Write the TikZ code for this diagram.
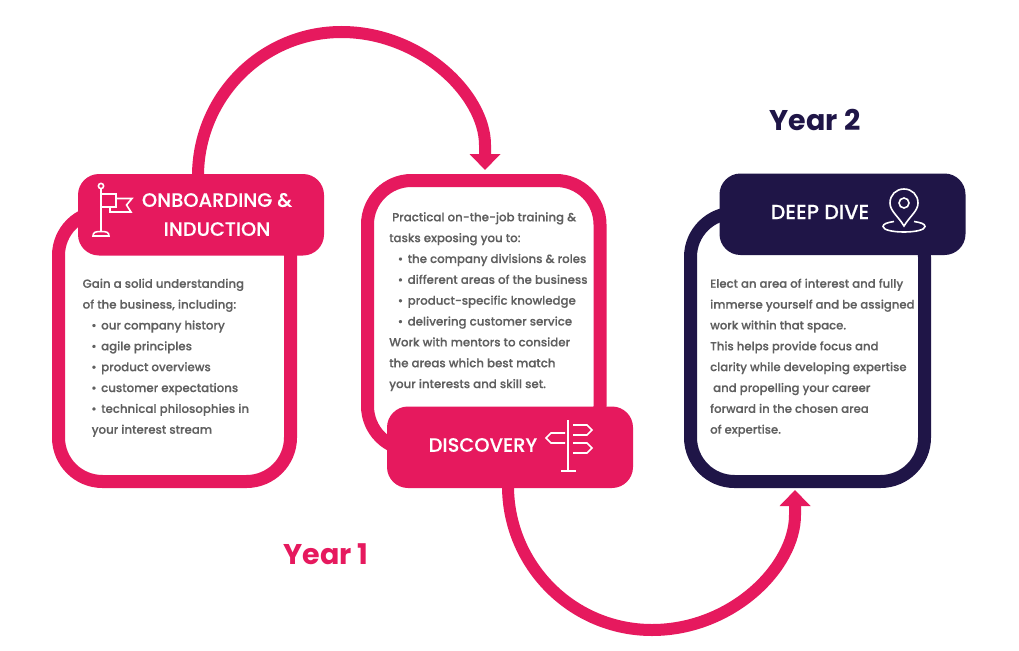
\documentclass[tikz,border=0pt]{standalone}
\usepackage{fontspec}
\setmainfont{Poppins}[UprightFont=* Medium,BoldFont=* Bold,UprightFeatures={FakeBold=0.25}]
\usetikzlibrary{arrows.meta,calc}
\definecolor{pinkc}{HTML}{E6195E}
\definecolor{navyc}{HTML}{1F1547}
\definecolor{bodyc}{HTML}{606060}
\newcommand{\bl}[1]{\makebox[18.5pt][r]{\textbullet\hspace{4.5pt}}#1}
\tikzset{
  x=1pt,y=-1pt,
  cardbox/.style={line width=13pt,rounded corners=44pt,fill=white,inner sep=0,outer sep=0,anchor=north west},
  hdr/.style={fill=#1,rounded corners=21pt,inner sep=0,outer sep=0,minimum width=246pt,minimum height=81.5pt,anchor=north west},
  hdrtext/.style={text=white,font=\fontsize{19.4}{29}\selectfont,inner sep=0,align=center},
  bodytext/.style={text=bodyc,font=\fontsize{11.8}{20.85}\selectfont,inner sep=0,align=left,anchor=north west},
  yeartext/.style={font=\fontsize{28.5}{30}\selectfont\bfseries,inner sep=0},
  flow/.style={draw=pinkc,line width=12pt,-{Triangle[length=16pt,width=30pt]}},
  icon/.style={draw=white,line width=1.6pt,line join=miter}
}
\begin{document}
\begin{tikzpicture}
\useasboundingbox (0,0) rectangle (1019,650);
\fill[white] (0,0) rectangle (1019,650);
% cards
\node[cardbox,draw=pinkc,minimum width=232pt,minimum height=270pt] (card1) at (58.5,211.5) {};
\node[cardbox,draw=pinkc,minimum width=232.5pt,minimum height=269.5pt] (card2) at (367.5,180.5) {};
\node[cardbox,draw=navyc,minimum width=234pt,minimum height=268.5pt] (card3) at (690.5,213) {};
% headers
\node[hdr=pinkc] (head1) at (78,174) {};
\node[hdr=pinkc] (head2) at (387,406.5) {};
\node[hdr=navyc] (head3) at (719.5,173.5) {};
% connectors
\coordinate (tip1) at (485,170);
\coordinate (tip2) at (795,490);
\draw[flow] ($(head1.north west)+(120,2)$) .. controls +(0,-79) and (262,32) .. (341.5,32)
  .. controls (421,32) and (485,95) .. (485,145) -- (tip1);
\draw[flow] ($(head2.south west)+(121,-2)$) .. controls +(0,79) and (572,630) .. (652,630)
  .. controls (732,630) and (795,567) .. (795,515) -- (tip2);
% header text
\node[hdrtext] (t1) at (217,214.5) {ONBOARDING \&\\INDUCTION};
\node[hdrtext] (t2) at (483,445) {DISCOVERY};
\node[hdrtext,font=\fontsize{20.5}{29}\selectfont] (t3) at (820,212) {DEEP DIVE};
% body
\node[bodytext] (b1) at (82.5,278.5) {Gain a solid understanding\\of the business, including:\\\bl{our company history}\\\bl{agile principles}\\\bl{product overviews}\\\bl{customer expectations}\\\bl{technical philosophies in}\\\hspace*{9pt}your interest stream};
\node[bodytext] (b2) at (389,212) {\hspace*{3pt}Practical on-the-job training \&\\tasks exposing you to:\\\bl{the company divisions \& roles}\\\bl{different areas of the business}\\\bl{product-specific knowledge}\\\bl{delivering customer service}\\Work with mentors to consider\\the areas which best match\\your interests and skill set.};
\node[bodytext,font=\fontsize{11.7}{20.85}\selectfont] (b3) at (710,278.5) {Elect an area of interest and fully\\immerse yourself and be assigned\\work within that space.\\This helps provide focus and\\clarity while developing expertise\\\hspace*{3pt}and propelling your career\\forward in the chosen area\\of expertise.};
% years
\node[yeartext,text=pinkc] (y1) at (326,554) {Year 1};
\node[yeartext,text=navyc] (y2) at (815,120) {Year 2};
% flag icon
\draw[icon] (101,186) circle (2.6);
\draw[icon] (101,188.6) -- (101,231);
\draw[icon] (93,236) .. controls (93,232) and (96,231.5) .. (101,231.5) .. controls (106,231.5) and (109,232) .. (109,236) -- cycle;
\draw[icon] (101,194) -- (116,194) -- (116,207) -- (101,207);
\draw[icon] (116,198.5) -- (132,198.5) -- (126.5,205) -- (131,212) -- (110,212) -- (110,207);
% signpost icon
\draw[icon] (568,420) -- (568,471) (561,471) -- (576,471);
\draw[icon] (573,425) -- (587,425) -- (592,430) -- (587,435) -- (573,435);
\draw[icon] (573,443) -- (587,443) -- (592,448) -- (587,453) -- (573,453);
\draw[icon] (565,433) -- (551,433) -- (546,438) -- (551,443) -- (565,443);
% pin icon
\draw[icon] (904,226) .. controls (898,216) and (890,211) .. (890,203) .. controls (890,195) and (896,189) .. (904,189) .. controls (912,189) and (918,195) .. (918,203) .. controls (918,211) and (910,216) .. (904,226) -- cycle;
\draw[icon] (904,203) circle (5);
\draw[icon] (894,221.5) .. controls (887,222.5) and (883,224) .. (883,226.5) .. controls (883,230) and (893,232) .. (904,232) .. controls (915,232) and (925,230) .. (925,226.5) .. controls (925,224) and (921,222.5) .. (914,221.5);
\end{tikzpicture}
\end{document}
